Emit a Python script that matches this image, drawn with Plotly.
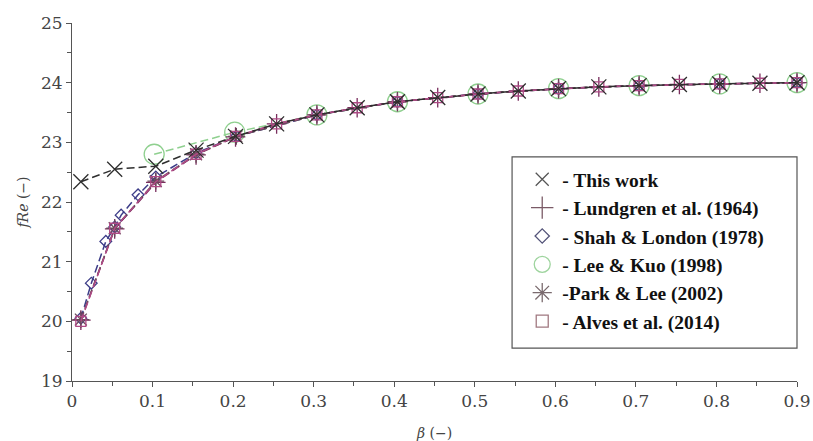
import plotly.graph_objects as go

# ---- data ----
beta_main = [0.011, 0.053, 0.104, 0.154, 0.203, 0.254, 0.304, 0.354, 0.404, 0.454,
             0.504, 0.554, 0.604, 0.654, 0.704, 0.754, 0.804, 0.854, 0.900]
fre_this_work = [22.34, 22.55, 22.60, 22.87, 23.10, 23.31, 23.46, 23.58, 23.68, 23.75,
                 23.81, 23.86, 23.90, 23.93, 23.95, 23.97, 23.98, 23.99, 24.00]
fre_lundgren = [20.02, 21.55, 22.33, 22.79, 23.09, 23.31, 23.46, 23.58, 23.68, 23.75,
                23.81, 23.86, 23.90, 23.93, 23.95, 23.97, 23.98, 23.99, 24.00]
fre_alves = [20.00, 21.56, 22.34, 22.80, 23.10, 23.31, 23.46, 23.58, 23.68, 23.75,
             23.81, 23.86, 23.90, 23.93, 23.95, 23.97, 23.98, 23.99, 24.00]

beta_park = [0.011, 0.053, 0.104, 0.154, 0.204, 0.304, 0.404, 0.504, 0.604, 0.704, 0.804, 0.900]
fre_park = [20.03, 21.56, 22.35, 22.80, 23.10, 23.46, 23.68, 23.81, 23.90, 23.95, 23.98, 24.00]

beta_shah = [0.011, 0.024, 0.042, 0.053, 0.061, 0.082, 0.104, 0.154, 0.204,
             0.304, 0.404, 0.504, 0.604, 0.704, 0.804, 0.900]
fre_shah = [20.05, 20.64, 21.34, 21.58, 21.78, 22.12, 22.42, 22.82, 23.10,
            23.46, 23.68, 23.81, 23.90, 23.95, 23.98, 24.00]

beta_lee = [0.102, 0.202, 0.304, 0.404, 0.504, 0.604, 0.704, 0.804, 0.900]
fre_lee = [22.80, 23.17, 23.46, 23.68, 23.81, 23.90, 23.95, 23.98, 24.00]

names = ["- This work", "- Lundgren et al. (1964)", "- Shah &amp; London (1978)",
         "- Lee &amp; Kuo (1998)", "-Park &amp; Lee (2002)", "- Alves et al. (2014)"]

# ---- styles ----
c_this = "#2e2e2e"
c_lund = "#7a2e5e"
c_shah = "#3c3c88"
c_lee = "#8fd08f"
c_park = "#6a4a5a"
c_alves = "#b04a86"
dash = "8px,4px"

series = [
    # x, y, color, symbol, size, legend color, legend size
    (beta_lee, fre_lee, c_lee, "circle-open", 20, "#9ed49e", 18),
    (beta_shah, fre_shah, c_shah, "diamond-open", 9, "#55557a", 11),
    (beta_main, fre_lundgren, c_lund, "cross-thin-open", 14, "#7a5a66", 18),
    (beta_park, fre_park, c_park, "asterisk-open", 14, "#7a6a6e", 16),
    (beta_main, fre_alves, c_alves, "square-open", 10, "#a07880", 12),
    (beta_main, fre_this_work, c_this, "x-thin-open", 15, "#555555", 13),
]
legend_order = [5, 2, 1, 0, 3, 4]
series_names = {0: names[3], 1: names[2], 2: names[1], 3: names[4], 4: names[5], 5: names[0]}

fig = go.Figure()
for i, (xs, ys, col, sym, sz, lcol, lsz) in enumerate(series):
    fig.add_trace(go.Scatter(
        x=xs, y=ys, mode="lines+markers", showlegend=False,
        line=dict(color=col, width=1.5, dash=dash),
        marker=dict(symbol=sym, size=sz, color=col, line=dict(width=1.3, color=col)),
        cliponaxis=False,
    ))

for rank, i in enumerate(legend_order):
    xs, ys, col, sym, sz, lcol, lsz = series[i]
    fig.add_trace(go.Scatter(
        x=[None], y=[None], mode="markers", name="<b>" + series_names[i] + "</b>",
        marker=dict(symbol=sym, size=lsz, color=lcol, line=dict(width=1.3, color=lcol)),
        legendrank=rank + 1,
    ))

# legend frame
fig.add_shape(type="rect", xref="paper", yref="paper",
              x0=0.607, x1=1.0, y0=0.092, y1=0.626,
              line=dict(color="#555555", width=1.2), fillcolor="rgba(0,0,0,0)", layer="above")

fig.update_layout(
    width=813, height=441,
    margin=dict(l=72, r=16, t=23, b=60, autoexpand=False),
    paper_bgcolor="white", plot_bgcolor="white",
    font=dict(family="DejaVu Serif", color="#444444"),
    showlegend=True,
    legend=dict(
        x=0.621, y=0.617, xanchor="left", yanchor="top",
        borderwidth=0, bgcolor="rgba(255,255,255,0)",
        font=dict(family="Liberation Serif", size=19.5, color="#111111"),
        itemwidth=30, tracegroupgap=0,
    ),
    xaxis=dict(
        range=[0, 0.9], tickmode="array", automargin=False,
        tickvals=[0, 0.1, 0.2, 0.3, 0.4, 0.5, 0.6, 0.7, 0.8, 0.9],
        ticktext=["0", "0.1", "0.2", "0.3", "0.4", "0.5", "0.6", "0.7", "0.8", "0.9"],
        showgrid=False, zeroline=False, showline=True, linecolor="#555555", linewidth=1,
        ticks="outside", ticklen=5, tickcolor="#555555",
        minor=dict(dtick=0.05, ticks="outside", ticklen=4, tickcolor="#555555"),
        tickfont=dict(family="DejaVu Serif", size=17, color="#444444"),
        title=dict(text="<i>β</i> (−)", font=dict(family="DejaVu Serif", size=14, color="#444444"), standoff=21),
    ),
    yaxis=dict(
        range=[19, 25], tickmode="array", automargin=False,
        tickvals=[19, 20, 21, 22, 23, 24, 25],
        ticktext=["19", "20", "21", "22", "23", "24", "25"],
        showgrid=False, zeroline=False, showline=True, linecolor="#555555", linewidth=1,
        ticks="outside", ticklen=5, tickcolor="#555555",
        minor=dict(dtick=0.5, ticks="outside", ticklen=4, tickcolor="#555555"),
        tickfont=dict(family="DejaVu Serif", size=17, color="#444444"),
        title=dict(text="<i>fRe</i> (−)", font=dict(family="DejaVu Serif", size=14, color="#444444"), standoff=9),
    ),
)

fig.write_html("out.html")
